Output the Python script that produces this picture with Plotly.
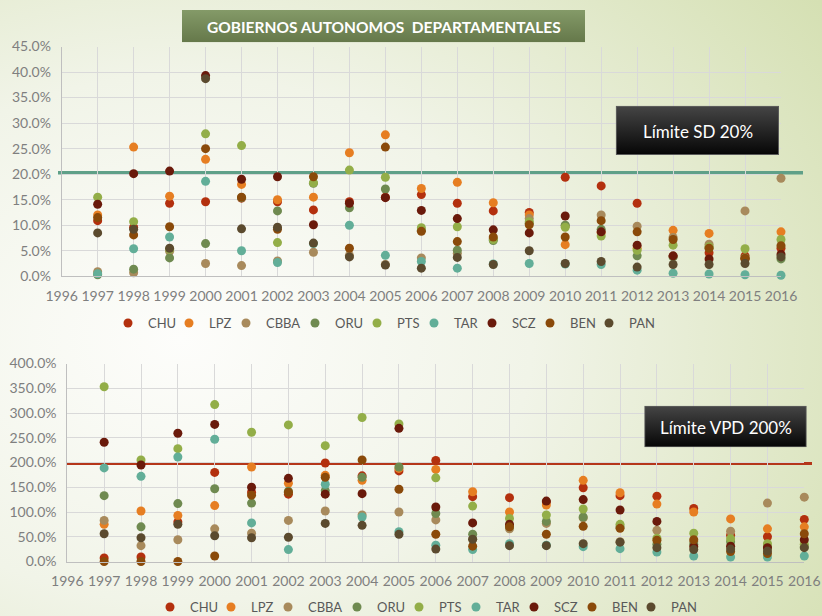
import base64
import plotly.graph_objects as go

YEARS = list(range(1997, 2017))
SERIES = ["CHU", "LPZ", "CBBA", "ORU", "PTS", "TAR", "SCZ", "BEN", "PAN"]
COLORS = ["#B3300E", "#E67E22", "#A88A5C", "#6F8A50", "#93AE48",
          "#62AE98", "#6A1A0B", "#8A4A0A", "#5B4A2E"]

# Servicio de deuda (SD), % -- 1997..2016
SD_CHU = [10.9, 9.6, 14.3, 14.6, 15.3, 14.6, 13.0, 14.6, 15.5, 16.0, 14.3, 12.8, 12.5, 19.4, 17.7, 14.3, 3.9, 4.6, 4.0, 5.5]
SD_LPZ = [12.0, 25.3, 15.7, 22.9, 18.0, 15.0, 15.5, 24.2, 27.7, 17.2, 18.4, 14.4, 12.0, 6.2, 8.6, 5.5, 9.0, 8.4, 3.6, 8.7]
SD_CBBA = [0.9, 0.7, 4.9, 2.5, 2.1, 3.0, 4.7, 4.1, 2.3, 3.6, 4.5, 7.4, 11.3, 9.9, 12.0, 9.8, 7.6, 6.3, 12.8, 19.2]
SD_ORU = [0.3, 1.4, 3.6, 6.4, 15.4, 12.8, 18.2, 13.4, 17.1, 9.0, 5.1, 7.0, 10.4, 10.0, 9.2, 4.0, 3.8, 5.6, 3.6, 3.4]
SD_PTS = [15.5, 10.7, 5.3, 27.9, 25.6, 6.6, 18.3, 20.8, 19.4, 9.5, 9.7, 7.2, 10.7, 9.6, 7.9, 5.1, 6.1, 5.8, 5.4, 7.2]
SD_TAR = [0.5, 5.4, 7.7, 18.6, 5.0, 2.7, 6.4, 10.0, 4.1, 2.9, 1.6, 2.4, 2.5, 2.4, 2.3, 1.2, 0.6, 0.45, 0.3, 0.2]
SD_SCZ = [14.1, 20.1, 20.6, 39.3, 19.0, 19.5, 10.1, 14.3, 15.4, 12.9, 11.3, 9.1, 8.5, 11.8, 8.7, 6.1, 4.0, 3.4, 3.4, 4.3]
SD_BEN = [11.5, 8.1, 9.7, 25.0, 15.5, 9.2, 19.5, 5.5, 25.3, 8.8, 6.8, 7.7, 10.1, 7.7, 10.9, 8.7, 7.2, 5.5, 3.5, 6.0]
SD_PAN = [8.5, 9.2, 5.5, 38.7, 9.3, 9.6, 6.5, 3.8, 2.2, 1.6, 3.7, 2.3, 5.0, 2.5, 2.9, 1.8, 2.3, 2.3, 2.5, 3.8]

# Valor presente de la deuda (VPD), % -- 1997..2016
VPD_CHU = [7, 9, 80, 180, 140, 136, 199, 173, 183, 204, 131, 129, 120, 149, 133, 132, 107, 53, 50, 85]
VPD_LPZ = [75, 102, 93, 113, 191, 158, 174, 164, 188, 186, 141, 100, 114, 164, 139, 116, 100, 86, 66, 70]
VPD_CBBA = [83, 32, 44, 66, 57, 83, 102, 94, 100, 84, 45, 66, 77, 88, 40, 63, 40, 61, 118, 130]
VPD_ORU = [133, 70, 117, 147, 118, 142, 143, 170, 191, 97, 55, 70, 81, 90, 70, 35, 35, 40, 30, 30]
VPD_PTS = [353, 205, 228, 317, 261, 276, 234, 291, 278, 169, 112, 87, 94, 106, 75, 47, 57, 46, 36, 35]
VPD_TAR = [189, 172, 211, 247, 78, 24, 156, 90, 60, 33, 24, 36, 33, 30, 26, 19, 11, 9, 9, 11]
VPD_SCZ = [241, 195, 259, 277, 150, 168, 136, 137, 269, 110, 78, 75, 122, 125, 104, 81, 30, 31, 28, 44]
VPD_BEN = [0, 0, 0, 11, 134, 140, 170, 205, 146, 55, 31, 70, 55, 71, 67, 43, 44, 20, 16, 56]
VPD_PAN = [56, 48, 75, 52, 48, 49, 77, 73, 55, 25, 45, 32, 32, 36, 39, 28, 24, 25, 21, 28]

SD_VALUES = [SD_CHU, SD_LPZ, SD_CBBA, SD_ORU, SD_PTS, SD_TAR, SD_SCZ, SD_BEN, SD_PAN]
VPD_VALUES = [VPD_CHU, VPD_LPZ, VPD_CBBA, VPD_ORU, VPD_PTS, VPD_TAR, VPD_SCZ, VPD_BEN, VPD_PAN]

SD_LIMIT = 20.3
VPD_LIMIT = 198
TITLE = "GOBIERNOS AUTONOMOS\u00a0 DEPARTAMENTALES"
SD_LABEL = "Límite SD 20%"
VPD_LABEL = "Límite VPD 200%"

W, H = 822, 616
FONT = "Lato, 'Open Sans', sans-serif"
GRID = "#D9D9D9"
TICK = "#7F7F7F"
# legend entry widths (px), a bit tighter than the text so entries sit closer together
LEGEND_W = [16, 12, 24, 17, 12, 13, 13, 14, 30]


def svg_uri(svg):
    return "data:image/svg+xml;base64," + base64.b64encode(svg.encode()).decode()


bg_svg = (
    '<svg xmlns="http://www.w3.org/2000/svg" width="822" height="616" preserveAspectRatio="none">'
    '<defs><radialGradient id="g" cx="0.22" cy="0.55" r="0.95" gradientUnits="objectBoundingBox">'
    '<stop offset="0" stop-color="#FDFDFB"/><stop offset="0.45" stop-color="#F1F4E8"/>'
    '<stop offset="1" stop-color="#D5E0B3"/></radialGradient></defs>'
    '<rect width="822" height="616" fill="url(#g)"/></svg>'
)
title_svg = (
    '<svg xmlns="http://www.w3.org/2000/svg" width="403" height="33" preserveAspectRatio="none">'
    '<defs><linearGradient id="t" x1="0" y1="0" x2="0" y2="1">'
    '<stop offset="0" stop-color="#849A68"/><stop offset="1" stop-color="#65784A"/></linearGradient></defs>'
    '<rect width="403" height="33" fill="url(#t)"/></svg>'
)
box_svg = (
    '<svg xmlns="http://www.w3.org/2000/svg" width="163" height="49" preserveAspectRatio="none">'
    '<defs><linearGradient id="b" x1="0" y1="0" x2="0" y2="1">'
    '<stop offset="0" stop-color="#454545"/><stop offset="1" stop-color="#060606"/></linearGradient></defs>'
    '<rect x="0.5" y="0.5" width="162" height="48" fill="url(#b)" stroke="#5a5a5a" stroke-width="1"/></svg>'
)


def px_x(x):
    return x / W


def px_y(y):
    return 1 - y / H


fig = go.Figure()

for name, color, vals, lw in zip(SERIES, COLORS, SD_VALUES, LEGEND_W):
    fig.add_trace(go.Scatter(
        x=YEARS, y=vals, mode="markers", name=name,
        marker=dict(color=color, size=9), cliponaxis=False,
        xaxis="x", yaxis="y", legend="legend", legendwidth=lw,
    ))
for name, color, vals, lw in zip(SERIES, COLORS, VPD_VALUES, LEGEND_W):
    fig.add_trace(go.Scatter(
        x=YEARS, y=vals, mode="markers", name=name,
        marker=dict(color=color, size=9), cliponaxis=False,
        xaxis="x2", yaxis="y2", legend="legend2", legendwidth=lw,
    ))

axis_common = dict(
    showgrid=True, gridcolor=GRID, gridwidth=1, zeroline=False,
    showline=True, linecolor="#BFBFBF", linewidth=1,
    tickfont=dict(family=FONT, size=14, color=TICK), ticks="",
    ticklabelstandoff=7, automargin=False,
)

fig.update_layout(
    width=W, height=H,
    margin=dict(l=0, r=0, t=0, b=0, autoexpand=False),
    paper_bgcolor="white",
    plot_bgcolor="rgba(0,0,0,0)",
    showlegend=True,
    xaxis=dict(domain=[px_x(61.7), px_x(781)], range=[1996, 2016], dtick=1,
               tick0=1996, anchor="y", **axis_common),
    yaxis=dict(domain=[px_y(276.3), px_y(46.5)], range=[0, 45], dtick=5,
               tickformat=".1f", ticksuffix="%", anchor="x", **axis_common),
    xaxis2=dict(domain=[px_x(67.3), px_x(804.3)], range=[1996, 2016], dtick=1,
                tick0=1996, anchor="y2", **axis_common),
    yaxis2=dict(domain=[px_y(561.5), px_y(363.5)], range=[0, 400], dtick=50,
                tickformat=".1f", ticksuffix="%", anchor="x2", **axis_common),
    legend=dict(orientation="h", x=px_x(386), y=px_y(323), xanchor="center",
                yanchor="middle", bgcolor="rgba(0,0,0,0)",
                font=dict(family=FONT, size=13, color="#595959"),
                itemwidth=30, tracegroupgap=0),
    legend2=dict(orientation="h", x=px_x(428), y=px_y(607), xanchor="center",
                 yanchor="middle", bgcolor="rgba(0,0,0,0)",
                 font=dict(family=FONT, size=13, color="#595959"),
                 itemwidth=30, tracegroupgap=0),
    images=[
        dict(source=svg_uri(bg_svg), xref="paper", yref="paper", x=0, y=1,
             sizex=1, sizey=1, xanchor="left", yanchor="top", sizing="stretch",
             layer="below"),
        dict(source=svg_uri(title_svg), xref="paper", yref="paper",
             x=px_x(182), y=px_y(10), sizex=(585 - 182) / W, sizey=(42.3 - 10) / H,
             xanchor="left", yanchor="top", sizing="stretch", layer="above"),
        dict(source=svg_uri(box_svg), xref="paper", yref="paper",
             x=px_x(615.7), y=px_y(105.7), sizex=(779 - 615.7) / W, sizey=(155 - 105.7) / H,
             xanchor="left", yanchor="top", sizing="stretch", layer="above"),
        dict(source=svg_uri(box_svg), xref="paper", yref="paper",
             x=px_x(644.3), y=px_y(405.7), sizex=(806.7 - 644.3) / W, sizey=(447.3 - 405.7) / H,
             xanchor="left", yanchor="top", sizing="stretch", layer="above"),
    ],
    shapes=[
        dict(type="line", xref="paper", yref="y", x0=px_x(58), x1=px_x(803),
             y0=SD_LIMIT, y1=SD_LIMIT, line=dict(color="#5FA088", width=3.5),
             layer="below"),
        dict(type="line", xref="paper", yref="y2", x0=px_x(66), x1=px_x(812),
             y0=VPD_LIMIT, y1=VPD_LIMIT, line=dict(color="#B5361A", width=3),
             layer="below"),
    ],
    annotations=[
        dict(text=TITLE, xref="paper", yref="paper", x=px_x(383.5), y=px_y(26.5),
             xanchor="center", yanchor="middle", showarrow=False,
             font=dict(family=FONT, size=15.5, color="white", weight="bold")),
        dict(text=SD_LABEL, xref="paper", yref="paper", x=px_x(697.5), y=px_y(131.5),
             xanchor="center", yanchor="middle", showarrow=False,
             font=dict(family=FONT, size=17, color="white")),
        dict(text=VPD_LABEL, xref="paper", yref="paper", x=px_x(725.5), y=px_y(427.5),
             xanchor="center", yanchor="middle", showarrow=False,
             font=dict(family=FONT, size=17, color="white")),
    ],
)

fig.write_html(
    "out.html",
    config={"displayModeBar": False},
    post_script="document.body.style.margin='0';document.body.style.overflow='hidden';",
)
